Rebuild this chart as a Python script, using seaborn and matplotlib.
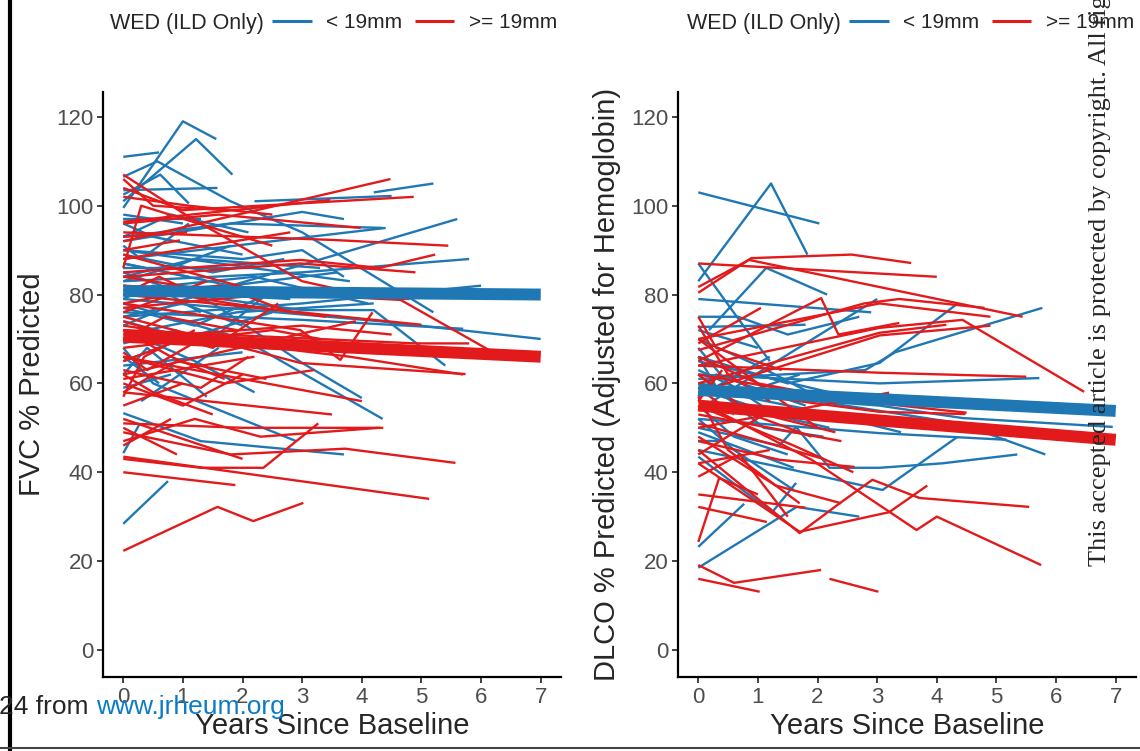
"""
Spaghetti plots of FVC and DLCO % predicted over time, split by WED group.
"""

import matplotlib

matplotlib.use("Agg")
import matplotlib.pyplot as plt
from matplotlib.lines import Line2D
import pandas as pd
import seaborn as sns

GROUPS = ["< 19mm", ">= 19mm"]
PALETTE = {"< 19mm": "#1F78B4", ">= 19mm": "#E31A1C"}

# individual trajectories: (years since baseline, value)
fvc_lt19 = [
    ([0, 0.6], [111, 112]),
    ([0, 1.0, 1.56], [99.5, 119, 115]),
    ([0, 1.22, 1.83], [101, 115, 107]),
    ([0, 0.57, 1.8, 3.0, 5.2], [106.5, 110, 101, 94, 76]),
    ([0, 0.62, 1.1], [102.5, 107, 100.5]),
    ([0, 1.58], [103.5, 104]),
    ([2.2, 4.5], [101, 102.2]),
    ([4.2, 5.2], [103, 105]),
    ([0, 1.8, 4.35], [93, 96, 95]),
    ([0, 2.0, 3.0, 3.7], [90, 88, 90, 84]),
    ([0.8, 5.6], [78, 97]),
    ([0, 3.0, 5.8], [83, 85, 88]),
    ([0, 3.0, 4.2, 5.4], [82, 76.5, 76.5, 64]),
    ([0, 3.0, 5.7], [76, 74.3, 72.3]),
    ([0, 4.3, 7.0], [79, 74, 70]),
    ([0, 3.0, 3.7], [92, 98.6, 97]),
    ([0, 2.5, 4.4], [88, 92, 95]),
    ([0, 0.75], [28.4, 38]),
    ([0, 0.28], [44.3, 51]),
    ([0, 1.3, 3.7], [53.3, 47, 44]),
    ([0, 0.8], [59, 62]),
    ([0.3, 1.6], [56, 68]),
    ([0, 2.0, 4.35], [78, 70, 52]),
    ([0, 2.0], [64, 67]),
    ([0, 1.2, 2.2], [72, 65, 58]),
    ([0, 1.0, 2.5], [65, 70, 76]),
    ([0, 1.5, 3.0, 4.0], [85, 78, 64.6, 56.7]),
    ([0, 1.8, 3.6], [87, 82, 85]),
    ([0, 0.5, 2.0], [96, 93, 89]),
    ([0, 1.0], [98, 96]),
    ([0, 1.5, 2.7], [89, 85, 88]),
    ([0, 0.5, 1.3], [79, 82, 76]),
    ([0, 2.8], [81, 79]),
    ([0, 1.0, 2.0], [75, 78, 73]),
    ([0, 1.9, 4.2], [71, 76, 78]),
    ([0, 0.4, 1.4], [62, 68, 57]),
    ([0, 1.0, 1.8], [83, 87, 91]),
    ([0, 2.3], [86, 86]),
    ([0, 0.9], [69, 72]),
    ([0, 0.3, 1.1], [91, 88, 96]),
    ([0, 1.2, 2.6], [77, 73, 81]),
    ([0, 1.3], [97, 97]),
    ([0, 0.8, 2.1], [93, 98, 94]),
    ([0, 1.1], [87, 84]),
    ([0, 1.4, 2.4], [74, 69, 80]),
    ([0, 0.6], [66, 60]),
    ([0, 1.6, 3.1], [80, 82, 80]),
    ([0, 2.7, 3.8], [90, 85, 83]),
    ([0, 3.0, 6.0], [75, 78, 82]),
    ([0, 0.5, 2.9], [68, 60, 47]),
    ([0, 1.2, 3.3], [84, 88, 86]),
    ([0, 2.2, 4.1], [81, 84, 78]),
    ([0, 0.7, 1.6], [73, 77, 82]),
]

fvc_ge19 = [
    ([0, 1.58, 2.18, 3.02], [22.3, 32.2, 29, 33.1]),
    ([0, 1.3, 2.35, 3.27], [43, 41, 41, 51]),
    ([0, 1.88], [40, 37.1]),
    ([0, 5.13], [43.5, 34]),
    ([0, 1.8, 3.72, 5.57], [49, 44, 45.3, 42.1]),
    ([0, 2.0, 4.36], [51, 50, 50]),
    ([0, 1.2, 2.3, 4.3], [47, 52, 48, 50]),
    ([0, 0.9], [50, 44]),
    ([0, 2.0], [52, 43]),
    ([0, 0.5, 1.5], [62, 58, 53]),
    ([0, 3.5], [58, 53]),
    ([0, 4.0], [66, 56]),
    ([0, 3.8, 5.7], [72, 66, 62]),
    ([0, 0.5, 1.7], [106, 100, 99]),
    ([0, 1.1, 3.0, 4.0], [107, 97.5, 83, 80]),
    ([0, 4.48], [92, 106]),
    ([0, 1.0, 4.87], [104, 99, 102]),
    ([0, 1.6, 3.98], [96, 98, 95]),
    ([0, 3.5, 5.45], [94, 92.3, 91]),
    ([0, 2.97, 4.3, 5.23], [85, 87.8, 86, 89]),
    ([0, 2.97, 4.9], [84, 87, 85]),
    ([0, 0.3, 1.5, 2.5], [86, 100, 95, 91]),
    ([0, 1.1, 2.5], [102, 100, 98]),
    ([0, 3.47], [96.4, 101.3]),
    ([0, 1.07], [93, 94]),
    ([0, 0.95], [90, 92.2]),
    ([0, 2.8], [88, 94]),
    ([0, 2.97, 5.74], [75, 64.6, 62.1]),
    ([0, 4.9, 5.8], [72, 69, 69]),
    ([0, 4.65, 6.2, 6.7], [82, 78.8, 67, 67]),
    ([0, 2.97, 3.64, 4.18], [78, 72, 65.3, 76]),
    ([0, 2.97, 5.0], [80, 76, 73.2]),
    ([0, 1.0, 2.0], [60, 55, 62]),
    ([0, 1.2, 2.5], [65, 71, 68]),
    ([0, 0.7, 1.9], [70, 75, 72]),
    ([0, 1.5, 2.6], [74, 68, 78]),
    ([0, 0.4, 1.3], [67, 63, 70]),
    ([0, 2.2], [61, 66]),
    ([0, 1.6, 2.8], [78, 82, 76]),
    ([0, 0.8, 1.7], [72, 66, 61]),
    ([0, 1.0], [55, 60]),
    ([0, 2.5, 3.3], [68, 72, 70]),
    ([0, 1.3, 2.1], [63, 59, 66]),
    ([0, 0.6, 1.4], [80, 84, 79]),
    ([0, 1.9], [84, 80]),
    ([0, 3.0, 4.5], [70, 73, 71]),
    ([0, 0.9, 2.4], [58, 65, 61]),
    ([0, 1.4], [76, 83]),
    ([0, 2.6, 3.9], [62, 70, 74]),
    ([0, 1.1, 2.2], [89, 85, 81]),
    ([0, 0.35, 1.2], [57, 66, 72]),
    ([0, 1.7, 3.2], [66, 60, 63]),
    ([0, 0.8], [46, 52]),
    ([0, 1.5], [73, 70]),
    ([0, 2.4, 4.8], [77, 80, 79]),
    ([0, 1.8, 3.4], [82, 78, 75]),
]

dlco_lt19 = [
    ([0, 2.03], [103, 96]),
    ([0, 1.22, 1.83], [83, 105, 89]),
    ([0, 0.7, 1.2], [87, 74, 65]),
    ([0.18, 1.14, 2.16], [72, 86, 80]),
    ([0, 2.9], [79, 76]),
    ([0, 0.67, 1.5, 2.7], [75, 75, 71, 75]),
    ([0, 1.8], [72.7, 73.2]),
    ([0, 3.0], [54, 79]),
    ([0, 2.8, 3.3, 5.77], [61, 63, 67, 77]),
    ([0, 1.5, 3.04, 4.35], [66, 60, 64.6, 78]),
    ([0, 3.04, 5.72], [62, 60, 61.2]),
    ([0, 3.04, 4.43, 6.95], [58, 55, 52.2, 50.2]),
    ([0, 3.04, 5.17], [52, 48.8, 47.3]),
    ([0, 2.0, 4.38, 5.82], [60, 56, 51, 44]),
    ([0, 1.36, 3.09, 4.35], [45, 41.2, 36, 48]),
    ([0, 1.36, 1.64, 2.2, 3.04, 4.09, 5.35], [50, 46, 50.2, 41, 41, 42, 44]),
    ([0, 1.65, 2.7], [18.5, 32.2, 30]),
    ([0, 0.77], [23.2, 32.9]),
    ([0, 1.24, 1.64], [43.5, 31, 37.6]),
    ([0, 0.35], [47, 47]),
    ([0, 0.5, 1.4], [68, 60, 52]),
    ([0, 1.0, 2.0], [70, 64, 57]),
    ([0, 0.8, 1.7], [63, 58, 62]),
    ([0, 1.2], [57, 66]),
    ([0, 0.6, 1.5], [55, 48, 44]),
    ([0, 2.2], [65, 58]),
    ([0, 1.9, 3.4], [59, 54, 49]),
    ([0, 1.0], [72, 68]),
    ([0, 0.4, 1.1], [66, 57, 54]),
    ([0, 1.6], [49, 41]),
    ([0, 0.9, 2.2], [60, 54, 50]),
    ([0, 0.3, 1.8], [57, 62, 55]),
    ([0, 0.6, 1.6], [52, 45, 36]),
    ([0, 1.1, 2.1], [62, 50, 48]),
]

dlco_ge19 = [
    ([0, 0.6, 2.06], [19.1, 15.1, 18]),
    ([0, 1.03], [16, 13.1]),
    ([2.2, 3.02], [16, 13.1]),
    ([0, 0.35, 1.0], [24.3, 38.7, 35]),
    ([0, 1.15], [32.2, 28.8]),
    ([0, 1.8], [35, 32]),
    ([0, 1.7, 2.37, 2.92, 3.71, 5.55], [45, 26.3, 33, 38.3, 34.2, 32.2]),
    ([0, 1.7, 3.2, 3.84], [42, 26.6, 31, 37]),
    ([0, 1.36, 2.62], [47, 42.8, 41.2]),
    ([0, 1.9, 3.66, 4.0, 5.75], [56, 42.8, 27, 30, 19.1]),
    ([0, 1.36, 3.2], [50, 53.4, 57.9]),
    ([0, 2.48, 4.5], [62, 56.3, 53.4]),
    ([0, 0.89, 2.57, 3.57], [80.4, 88.2, 89, 87.1]),
    ([0, 4.0], [87, 84]),
    ([0, 0.85, 5.44], [81.7, 87.8, 75]),
    ([0, 3.04, 4.9], [70, 78, 75]),
    ([0, 3.04, 4.43, 6.47], [64, 72.5, 74.3, 58.1]),
    ([0, 3.04, 4.16], [60, 71.4, 73.2]),
    ([0, 3.04, 4.9], [58, 70.8, 73]),
    ([0, 3.04, 5.5], [64, 62.4, 61.5]),
    ([0, 3.04, 4.48], [59, 53.6, 53.1]),
    ([0, 2.06, 2.35, 3.37], [65, 79.2, 71, 73.6]),
    ([0, 1.05], [69, 77]),
    ([0, 2.78, 3.37, 4.8], [67.5, 78, 79, 77]),
    ([0, 0.5, 1.2], [73, 62, 56]),
    ([0, 1.0, 2.0], [70, 60, 50]),
    ([0, 0.4], [56, 63]),
    ([0, 1.6, 2.6], [55, 46, 40]),
    ([0, 0.9, 1.9], [62, 53, 48]),
    ([0, 1.2], [42, 45]),
    ([0, 2.1], [51, 43]),
    ([0, 0.7, 1.5], [39, 44, 30]),
    ([0, 1.3, 2.4], [48, 37, 33]),
    ([0, 0.6], [59, 53]),
    ([0, 1.0, 1.8], [66, 60, 58]),
    ([0, 2.4], [53, 47]),
    ([0, 0.3, 1.4], [75, 68, 63]),
    ([0, 1.1, 2.3], [44, 53, 49]),
    ([0, 0.5, 1.7], [57, 45, 33]),
]

# group-level fitted lines
fit_years = [0, 7]
fvc_fit_lt19 = [80.8, 80.0]
fvc_fit_ge19 = [70.5, 66.0]
dlco_fit_lt19 = [58.5, 53.8]
dlco_fit_ge19 = [55.0, 47.3]

y_ticks = [0, 20, 40, 60, 80, 100, 120]
x_ticks = [0, 1, 2, 3, 4, 5, 6, 7]


def long_frame(trajs_lt, trajs_ge):
    rows = []
    for group, trajs in zip(GROUPS, [trajs_lt, trajs_ge]):
        for i, (yrs, vals) in enumerate(trajs):
            for t, v in zip(yrs, vals):
                rows.append({"id": f"{group}-{i}", "group": group, "years": t, "value": v})
    return pd.DataFrame(rows)


def fit_frame(fit_lt, fit_ge):
    rows = []
    for group, vals in zip(GROUPS, [fit_lt, fit_ge]):
        for t, v in zip(fit_years, vals):
            rows.append({"group": group, "years": t, "value": v})
    return pd.DataFrame(rows)


sns.set_style("ticks")
plt.rcParams["font.family"] = ["Liberation Sans", "DejaVu Sans"]
plt.rcParams["lines.solid_capstyle"] = "butt"

W, H = 1140, 751
fig = plt.figure(figsize=(W / 100, H / 100), dpi=100)

panels = [
    (103, fvc_lt19, fvc_ge19, fvc_fit_lt19, fvc_fit_ge19, "FVC % Predicted", 110),
    (678, dlco_lt19, dlco_ge19, dlco_fit_lt19, dlco_fit_ge19,
     "DLCO % Predicted (Adjusted for Hemoglobin)", 687),
]

for left_px, t_lt, t_ge, f_lt, f_ge, ylabel, legend_px in panels:
    ax = fig.add_axes([left_px / W, 1 - 677 / H, 458 / W, 585 / H])
    sns.lineplot(
        data=long_frame(t_lt, t_ge),
        x="years",
        y="value",
        hue="group",
        hue_order=GROUPS,
        palette=PALETTE,
        units="id",
        estimator=None,
        sort=False,
        lw=1.7,
        ax=ax,
    )
    sns.lineplot(
        data=fit_frame(f_lt, f_ge),
        x="years",
        y="value",
        hue="group",
        hue_order=GROUPS,
        palette=PALETTE,
        lw=8.6,
        legend=False,
        ax=ax,
    )
    ax.set_xlim(-0.34, 7.34)
    ax.set_ylim(-6.1, 125.6)
    ax.set_xticks(x_ticks)
    ax.set_yticks(y_ticks)
    ax.set_xlabel("Years Since Baseline", fontsize=21, labelpad=3)
    ax.set_ylabel(ylabel, fontsize=21, labelpad=7)
    ax.tick_params(labelsize=16, labelcolor="#4D4D4D", color="#333333",
                   length=4, width=1.3, pad=3)
    for side in ["left", "bottom"]:
        ax.spines[side].set_linewidth(1.6)
        ax.spines[side].set_color("black")
    sns.despine(ax=ax)

    sns.move_legend(
        ax,
        "center left",
        bbox_to_anchor=((legend_px + 162) / W, 1 - 23 / H),
        bbox_transform=fig.transFigure,
        ncol=2,
        title=None,
        frameon=False,
        fontsize=15,
        handlelength=1.9,
        handletextpad=0.7,
        columnspacing=0.6,
        borderpad=0,
        borderaxespad=0,
    )
    for line in ax.get_legend().get_lines():
        line.set_linewidth(2.2)
    fig.text(legend_px / W, 1 - 23 / H, "WED (ILD Only)", fontsize=15.5,
             va="center", ha="left")

# page artefacts from the source PDF
fig.text(1100 / W, 1 - 566 / H,
         "This accepted article is protected by copyright. All rights reserved.",
         rotation=90, fontsize=19, family=["Liberation Serif", "DejaVu Serif"],
         va="bottom", ha="center")
fig.text(96 / W, 1 - 707 / H, "24 from ", fontsize=19, va="center", ha="right")
fig.text(96 / W, 1 - 707 / H, "www.jrheum.org", fontsize=19, color="#0B7BC8",
         va="center", ha="left")
fig.add_artist(Line2D([10 / W, 10 / W], [0, 1], color="black", lw=3,
                      transform=fig.transFigure))
fig.add_artist(Line2D([0, 1], [3 / H, 3 / H], color="#444444", lw=1.5,
                      transform=fig.transFigure))

fig.savefig("out.png", dpi=100)
